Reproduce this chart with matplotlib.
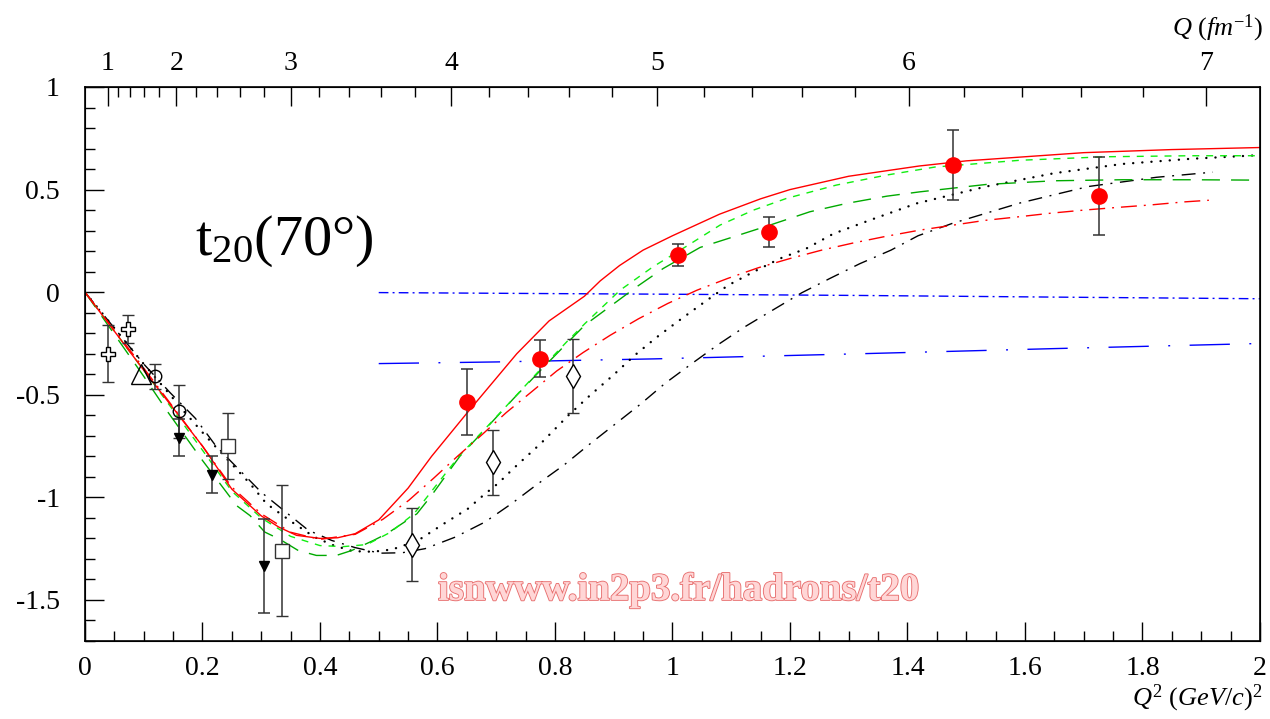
import numpy as np
import matplotlib
matplotlib.use('Agg')
import matplotlib.pyplot as plt
import matplotlib.patheffects as pe
from matplotlib.ticker import MultipleLocator, FormatStrFormatter

plt.rcParams['font.family'] = ['Liberation Serif', 'DejaVu Serif']
plt.rcParams['mathtext.fontset'] = 'custom'
plt.rcParams['mathtext.rm'] = 'Liberation Serif'
plt.rcParams['mathtext.it'] = 'Liberation Serif:italic'
plt.rcParams['axes.unicode_minus'] = False
plt.rcParams['lines.scale_dashes'] = False

# ---- data ----
# theory curves: Q^2 (GeV/c)^2 vs t20
red_solid_x = [0, 0.10, 0.20, 0.25, 0.30, 0.33, 0.36, 0.40, 0.43, 0.46, 0.50, 0.55, 0.59, 0.65,
               0.735, 0.79, 0.85, 0.877, 0.91, 0.95, 1.00, 1.08, 1.15, 1.20, 1.30, 1.42, 1.50,
               1.70, 1.85, 2.0]
red_solid_y = [0, -0.38, -0.75, -0.96, -1.09, -1.145, -1.185, -1.20, -1.197, -1.177, -1.11,
               -0.955, -0.80, -0.59, -0.30, -0.14, -0.02, 0.055, 0.13, 0.205, 0.275, 0.38, 0.455,
               0.50, 0.565, 0.615, 0.64, 0.68, 0.695, 0.705]

red_dd_x = [0, 0.10, 0.20, 0.25, 0.30, 0.35, 0.40, 0.46, 0.507, 0.551, 0.593, 0.634, 0.676, 0.717,
            0.76, 0.803, 0.848, 0.894, 0.942, 0.992, 1.042, 1.094, 1.146, 1.20, 1.254, 1.308, 1.363,
            1.42, 1.476, 1.532, 1.588, 1.644, 1.70, 1.757, 1.813, 1.871, 1.913]
red_dd_y = [0, -0.37, -0.75, -0.95, -1.08, -1.17, -1.205, -1.18, -1.107, -1.015, -0.908, -0.80,
            -0.694, -0.587, -0.486, -0.384, -0.294, -0.21, -0.13, -0.055, 0.01, 0.067, 0.119, 0.164,
            0.205, 0.24, 0.272, 0.302, 0.326, 0.35, 0.367, 0.385, 0.40, 0.413, 0.425, 0.44, 0.448]

green_short_x = [0, 0.10, 0.20, 0.25, 0.30, 0.35, 0.40, 0.44, 0.48, 0.52, 0.56, 0.59, 0.638, 0.684,
                 0.729, 0.774, 0.82, 0.851, 0.911, 0.967, 1.024, 1.081, 1.138, 1.194, 1.279, 1.365,
                 1.447, 1.592, 1.737, 1.882, 2.0]
green_short_y = [0, -0.38, -0.77, -0.97, -1.10, -1.19, -1.235, -1.24, -1.23, -1.17, -1.08, -0.97,
                 -0.795, -0.657, -0.519, -0.38, -0.242, -0.153, 0.01, 0.124, 0.224, 0.327, 0.40,
                 0.457, 0.522, 0.571, 0.61, 0.643, 0.66, 0.665, 0.665]

green_long_x = [0, 0.10, 0.14, 0.20, 0.258, 0.281, 0.306, 0.332, 0.363, 0.394, 0.428, 0.454, 0.491,
                0.514, 0.565, 0.59, 0.638, 0.684, 0.729, 0.774, 0.82, 0.851, 0.939, 0.984, 1.047,
                1.104, 1.166, 1.234, 1.297, 1.365, 1.421, 1.534, 1.65, 1.766, 1.882, 2.0]
green_long_y = [0, -0.41, -0.58, -0.82, -1.04, -1.089, -1.169, -1.205, -1.259, -1.283, -1.283,
                -1.259, -1.21, -1.177, -1.08, -0.99, -0.80, -0.66, -0.52, -0.385, -0.25, -0.16,
                0.026, 0.115, 0.218, 0.27, 0.327, 0.392, 0.433, 0.468, 0.489, 0.525, 0.543, 0.548,
                0.548, 0.546]

black_dot_x = [0, 0.10, 0.136, 0.167, 0.207, 0.244, 0.281, 0.309, 0.352, 0.391, 0.423, 0.456, 0.49,
               0.523, 0.567, 0.61, 0.652, 0.678, 0.704, 0.729, 0.776, 0.823, 0.86, 0.899, 0.936,
               0.973, 1.016, 1.055, 1.095, 1.138, 1.183, 1.228, 1.274, 1.336, 1.416, 1.534, 1.65,
               1.766, 1.882, 2.0]
black_dot_y = [0, -0.35, -0.47, -0.576, -0.706, -0.82, -0.933, -1.031, -1.12, -1.194, -1.234,
               -1.262, -1.265, -1.254, -1.21, -1.13, -1.055, -0.99, -0.93, -0.86, -0.737, -0.60,
               -0.502, -0.405, -0.307, -0.22, -0.128, -0.047, 0.034, 0.099, 0.164, 0.213, 0.285,
               0.351, 0.433, 0.515, 0.58, 0.625, 0.65, 0.668]

black_dd_x = [0, 0.10, 0.145, 0.188, 0.223, 0.30, 0.38, 0.42, 0.46, 0.502, 0.54, 0.579, 0.63, 0.681,
              0.726, 0.769, 0.816, 0.858, 0.902, 0.945, 0.988, 1.033, 1.078, 1.123, 1.172, 1.22,
              1.268, 1.319, 1.372, 1.418, 1.476, 1.592, 1.708, 1.824, 1.92]
black_dd_y = [0, -0.35, -0.49, -0.615, -0.75, -0.975, -1.16, -1.21, -1.245, -1.272, -1.27, -1.25,
              -1.194, -1.12, -1.031, -0.938, -0.841, -0.743, -0.644, -0.547, -0.443, -0.348,
              -0.255, -0.169, -0.085, -0.003, 0.067, 0.139, 0.205, 0.275, 0.335, 0.435, 0.515,
              0.56, 0.585]

blue_dd_x = [0.5, 0.8, 1.0, 1.32, 1.65, 2.0]
blue_dd_y = [-0.002, -0.007, -0.01, -0.016, -0.024, -0.032]

blue_long_x = [0.5, 0.7, 0.97, 1.32, 1.65, 2.0]
blue_long_y = [-0.348, -0.340, -0.325, -0.30, -0.275, -0.25]

# measurements
cross_x = [0.039, 0.073]
cross_y = [-0.30, -0.18]
cross_err = [0.14, 0.07]

tri_open_x = [0.095]
tri_open_y = [-0.40]

circ_x = [0.119, 0.160]
circ_y = [-0.41, -0.58]
circ_err = [0.06, 0.13]

tri_down_x = [0.160, 0.216, 0.304]
tri_down_y = [-0.71, -0.89, -1.335]
tri_down_err = [0.09, 0.09, 0.23]

sq_x = [0.243, 0.335]
sq_y = [-0.75, -1.26]
sq_err = [0.16, 0.32]

dia_x = [0.557, 0.694, 0.831]
dia_y = [-1.23, -0.83, -0.41]
dia_err = [0.18, 0.16, 0.18]

red_x = [0.651, 0.774, 1.009, 1.165, 1.477, 1.726]
red_y = [-0.535, -0.324, 0.180, 0.294, 0.620, 0.470]
red_err = [0.163, 0.09, 0.053, 0.073, 0.172, 0.19]

q_ticks = [1, 2, 3, 4, 5, 6, 7]
hbarc = 0.19733  # GeV fm

fig = plt.figure(figsize=(12.7, 7.19), dpi=100)
ax = fig.add_axes([0.0669, 0.1085, 0.9252, 0.7705])

ax.plot(blue_dd_x, blue_dd_y, color='#0000ff', lw=1.0, dashes=(7, 3, 1.4, 3))
ax.plot(blue_long_x, blue_long_y, color='#0000ff', lw=1.0, dashes=(29, 14, 1.4, 14))
ax.plot(black_dd_x, black_dd_y, color='black', lw=1.0, dashes=(10, 5.5, 1.4, 5.5))
ax.plot(black_dot_x, black_dot_y, color='black', lw=1.7, dashes=(0.1, 6.5),
        dash_capstyle='round')
ax.plot(green_long_x, green_long_y, color='#00aa00', lw=1.0, dashes=(13, 8))
ax.plot(green_short_x, green_short_y, color='#11ee11', lw=1.0, dashes=(5, 5))
ax.plot(red_dd_x, red_dd_y, color='#ff0000', lw=1.0, dashes=(11.5, 5, 1.4, 5))
ax.plot(red_solid_x, red_solid_y, color='#ff0000', lw=1.0)

eb = dict(ecolor='#333333', elinewidth=1.1, capsize=4.5, capthick=1.1, linestyle='none')
ax.errorbar(cross_x, cross_y, yerr=cross_err, marker='P', ms=10, mfc='white', mec='black',
            mew=1.0, **eb)
ax.plot(tri_open_x, tri_open_y, marker='^', ms=14, mfc='none', mec='black', mew=1.0,
        linestyle='none')
ax.errorbar(circ_x, circ_y, yerr=circ_err, marker='o', ms=9, mfc='none', mec='black',
            mew=1.0, **eb)
ax.errorbar(tri_down_x, tri_down_y, yerr=tri_down_err, marker='v', ms=7, mfc='black',
            mec='black', **eb)
ax.errorbar(sq_x, sq_y, yerr=sq_err, marker='s', ms=10, mfc='white', mec='#333333',
            mew=1.0, **eb)
ax.errorbar(dia_x, dia_y, yerr=dia_err, marker='d', ms=12, mfc='white', mec='black',
            mew=1.0, **eb)
ax.errorbar(red_x, red_y, yerr=red_err, marker='o', ms=11, mfc='#ff0000', mec='#ff0000',
            **eb)

ax.set_xlim(0, 2)
ax.set_ylim(-1.7, 1.0)

ax.xaxis.set_major_locator(MultipleLocator(0.2))
ax.xaxis.set_minor_locator(MultipleLocator(0.05))
ax.yaxis.set_major_locator(MultipleLocator(0.5))
ax.yaxis.set_minor_locator(MultipleLocator(0.1))
ax.xaxis.set_major_formatter(FormatStrFormatter('%g'))
ax.yaxis.set_major_formatter(FormatStrFormatter('%g'))
ax.tick_params(which='both', direction='in', top=False, right=False, labelsize=20, width=1.0)
ax.tick_params(which='major', length=13.5)
ax.tick_params(which='minor', length=7)
ax.tick_params(axis='y', pad=18)
ax.tick_params(axis='x', pad=11)
for s in ax.spines.values():
    s.set_linewidth(1.2)

# top axis in Q (fm^-1)
ax2 = ax.twiny()
ax2.set_xlim(ax.get_xlim())
ax2.set_xticks([(q * hbarc) ** 2 for q in q_ticks])
ax2.set_xticklabels([str(q) for q in q_ticks])
q_minor = [q / 5 for q in range(5, 36) if q % 5 != 0]
ax2.set_xticks([(q * hbarc) ** 2 for q in q_minor if (q * hbarc) ** 2 <= 2], minor=True)
ax2.tick_params(which='both', direction='in', labelsize=20, width=1.0, pad=8)
ax2.tick_params(which='major', length=13.5)
ax2.tick_params(which='minor', length=7)

fig.text(0.9945, 0.0195, r'$Q^{2}\ (GeV/c)^{2}$', ha='right', va='baseline', fontsize=19)
fig.text(0.9945, 0.951, r'$Q\ (fm^{-1})$', ha='right', va='baseline', fontsize=19)

ax.text(0.187, 0.18, r'$\mathrm{t}_{\mathrm{20}}\mathrm{(70°)}$', fontsize=42,
        ha='left', va='baseline')

wm = ax.text(0.601, -1.50, 'isnwww.in2p3.fr/hadrons/t20', fontsize=28, fontweight='bold',
             color='#ffd6d6', ha='left', va='baseline')
wm.set_path_effects([pe.Stroke(linewidth=1.3, foreground='#e87070'), pe.Normal()])

fig.savefig('out.png', dpi=100)
